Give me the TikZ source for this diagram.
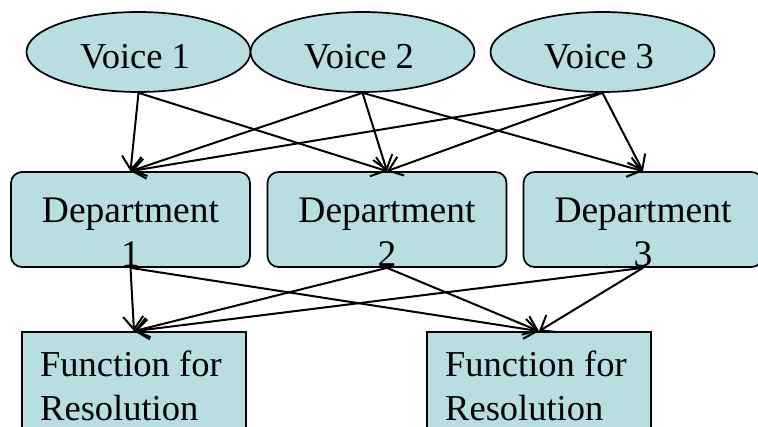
\documentclass[tikz,border=0pt]{standalone}
\usepackage{fontspec}
\setmainfont{Liberation Serif}
\usetikzlibrary{shapes.geometric,arrows.meta}
\definecolor{boxfill}{RGB}{184,222,226}
\tikzset{
  voice/.style={ellipse, draw=black, line width=1.7pt, fill=boxfill,
    minimum width=224pt, minimum height=80pt, inner sep=0pt},
  dept/.style={rectangle, rounded corners=11pt, draw=black, line width=1.7pt,
    fill=boxfill, minimum width=239pt, minimum height=95pt, inner sep=0pt},
  func/.style={rectangle, draw=black, line width=1.7pt, fill=boxfill,
    minimum width=224pt, minimum height=120pt, inner sep=0pt},
  txt/.style={font=\fontsize{36.5}{43}\selectfont, inner sep=0pt, anchor=base},
  dtxt/.style={txt, font=\fontsize{37.5}{44}\selectfont},
  ltxt/.style={txt, anchor=base west, text depth=0pt},
  arr/.style={line width=2pt, -{Straight Barb[length=13pt,width=20pt]}},
}
\begin{document}
\begin{tikzpicture}[x=1pt, y=-1pt]
  \useasboundingbox (0,0) rectangle (758,427);
  \clip (0,0) rectangle (758,427);

  % voices
  \node[voice] (v1) at (138.5,52) {};
  \node[voice] (v2) at (362.5,52) {};
  \node[voice] (v3) at (602.5,52) {};
  \node[txt] (v1t) at (135,69) {Voice 1};
  \node[txt] (v2t) at (359,69) {Voice 2};
  \node[txt] (v3t) at (599,69) {Voice 3};

  % departments
  \node[dept] (d1) at (130.5,219.5) {};
  \node[dept] (d2) at (387,219.5) {};
  \node[dept] (d3) at (643,219.5) {};
  \node[dtxt] (d1a) at (130.5,223) {Department};
  \node[dtxt] (d1b) at (130.5,267) {1};
  \node[dtxt] (d2a) at (387,223) {Department};
  \node[dtxt] (d2b) at (387,267) {2};
  \node[dtxt] (d3a) at (643,223) {Department};
  \node[dtxt] (d3b) at (643,267) {3};

  % resolution functions
  \node[func] (f1) at (134,392) {};
  \node[func] (f2) at (539,392) {};
  \node[ltxt] (f1a) at (40,377) {Function for};
  \node[ltxt] (f1b) at (40,421) {Resolution};
  \node[ltxt] (f2a) at (445,377) {Function for};
  \node[ltxt] (f2b) at (445,421) {Resolution};

  % voices to departments
  \draw[arr] (v1.south) -- (d1.north);
  \draw[arr] (v1.south) -- (d2.north);
  \draw[arr] (v2.south) -- (d1.north);
  \draw[arr] (v2.south) -- (d2.north);
  \draw[arr] (v2.south) -- (d3.north);
  \draw[arr] (v3.south) -- (d1.north);
  \draw[arr] (v3.south) -- (d2.north);
  \draw[arr] (v3.south) -- (d3.north);

  % departments to resolution functions
  \draw[arr] (d1.south) -- (f1.north);
  \draw[arr] (d1.south) -- (f2.north);
  \draw[arr] (d2.south) -- (f1.north);
  \draw[arr] (d2.south) -- (f2.north);
  \draw[arr] (d3.south) -- (f1.north);
  \draw[arr] (d3.south) -- (f2.north);
\end{tikzpicture}
\end{document}
